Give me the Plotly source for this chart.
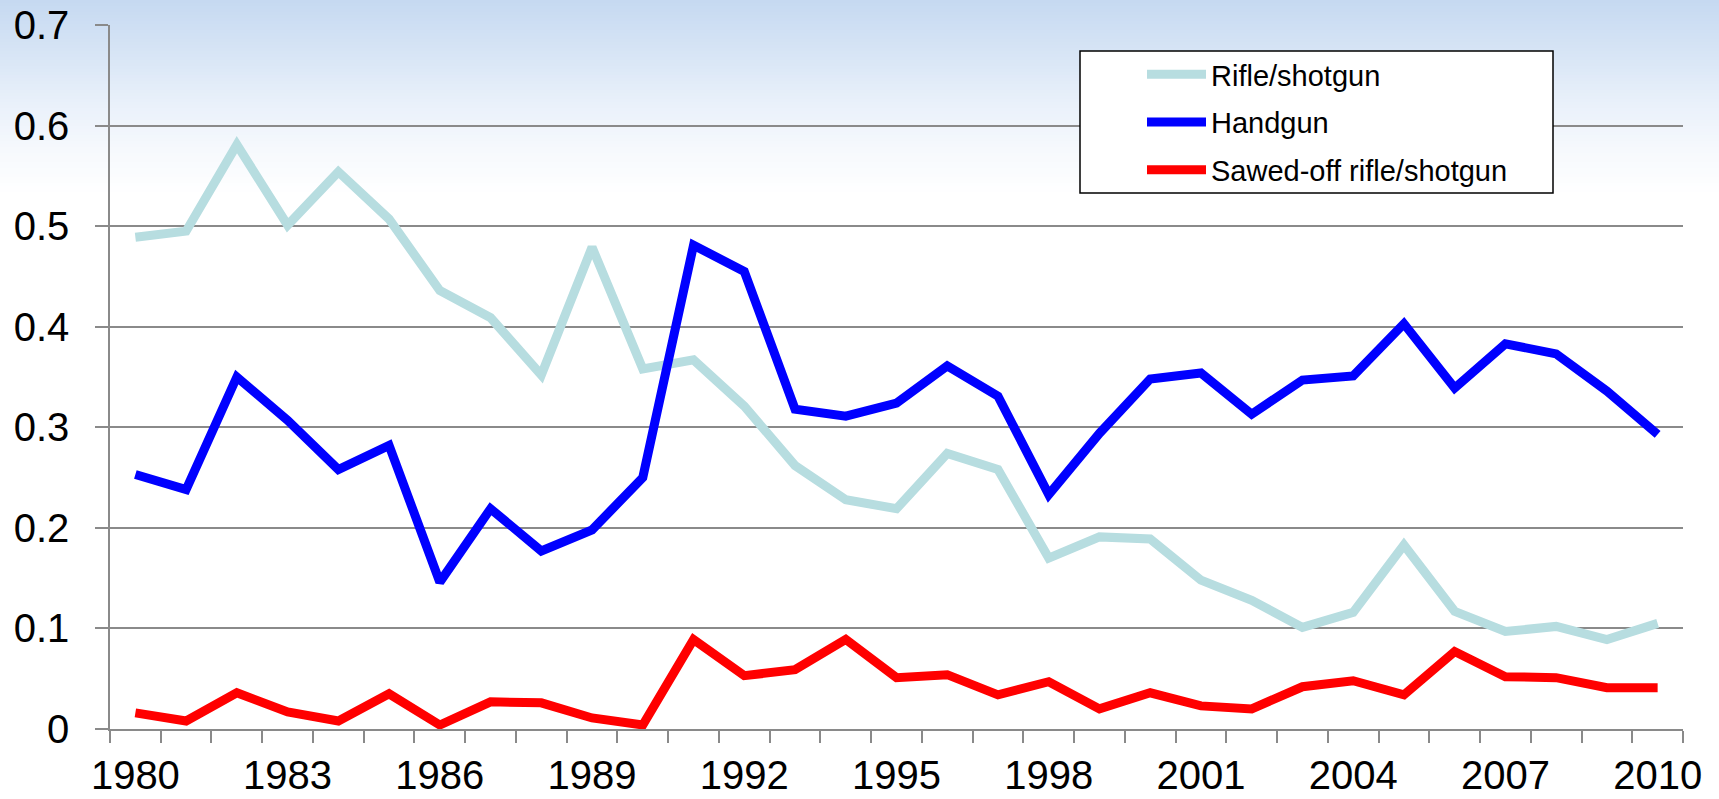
import plotly.graph_objects as go

years = list(range(1980, 2011))
rifle_shotgun = [0.489, 0.495, 0.581, 0.501, 0.554, 0.507, 0.436, 0.409, 0.352, 0.479,
                 0.358, 0.367, 0.321, 0.262, 0.228, 0.219, 0.274, 0.258, 0.170, 0.191,
                 0.189, 0.148, 0.128, 0.101, 0.116, 0.183, 0.117, 0.097, 0.102, 0.089, 0.105]
handgun = [0.253, 0.238, 0.350, 0.307, 0.258, 0.282, 0.146, 0.219, 0.177, 0.198,
           0.250, 0.481, 0.455, 0.318, 0.311, 0.324, 0.361, 0.331, 0.233, 0.294,
           0.348, 0.354, 0.313, 0.347, 0.351, 0.403, 0.339, 0.383, 0.373, 0.336, 0.293]
sawed_off = [0.016, 0.008, 0.036, 0.017, 0.008, 0.035, 0.004, 0.027, 0.026, 0.011,
             0.004, 0.089, 0.053, 0.059, 0.089, 0.051, 0.054, 0.034, 0.047, 0.020,
             0.036, 0.023, 0.020, 0.042, 0.048, 0.034, 0.077, 0.052, 0.051, 0.041, 0.041]
series_names = ["Rifle/shotgun", "Handgun", "Sawed-off rifle/shotgun"]
series_colors = ["#b7dde0", "#0000ff", "#ff0000"]
x_tick_years = list(range(1980, 2011, 3))
y_ticks = [0, 0.1, 0.2, 0.3, 0.4, 0.5, 0.6, 0.7]

W, H = 1719, 799
ML, MR, MT, MB = 110, 36, 25, 70
PW, PH = W - ML - MR, H - MT - MB


def px_to_paper_x(px):
    return (px - ML) / PW


def px_to_paper_y(py):
    return (H - MB - py) / PH


fig = go.Figure()
for name, vals, col in zip(series_names, [rifle_shotgun, handgun, sawed_off], series_colors):
    fig.add_trace(go.Scatter(x=years, y=vals, mode="lines", name=name,
                             legendgroup=name,
                             line=dict(color=col, width=9)))

# background gradient (top bluish fading to white)
stops = [(0, (198, 217, 241)), (50, (214, 228, 245)), (100, (232, 240, 250)),
         (150, (246, 249, 253)), (195, (255, 255, 255))]
shapes = []
step = 3
for y in range(0, 195, step):
    yc = y + step / 2
    for (a, ca), (b, cb) in zip(stops[:-1], stops[1:]):
        if a <= yc <= b:
            t = (yc - a) / (b - a)
            c = tuple(round(ca[i] + (cb[i] - ca[i]) * t) for i in range(3))
            break
    shapes.append(dict(type="rect", xref="paper", yref="paper", layer="below",
                       x0=px_to_paper_x(0), x1=px_to_paper_x(W),
                       y0=px_to_paper_y(y + step + 0.5), y1=px_to_paper_y(y),
                       fillcolor="rgb(%d,%d,%d)" % c, line=dict(width=0)))
# legend box
shapes.append(dict(type="rect", xref="paper", yref="paper", layer="above",
                   x0=px_to_paper_x(1080), x1=px_to_paper_x(1553),
                   y0=px_to_paper_y(193), y1=px_to_paper_y(51),
                   fillcolor="white", line=dict(color="black", width=1.5)))

font_family = "Liberation Sans, Arial, sans-serif"
fig.update_layout(
    width=W, height=H,
    margin=dict(l=ML, r=MR, t=MT, b=MB, pad=0, autoexpand=False),
    paper_bgcolor="white",
    plot_bgcolor="rgba(0,0,0,0)",
    font=dict(family=font_family, color="black"),
    shapes=shapes,
    showlegend=True,
    legend=dict(x=px_to_paper_x(1142), y=px_to_paper_y(49), xanchor="left", yanchor="top",
                bgcolor="rgba(0,0,0,0)", borderwidth=0,
                font=dict(size=29, family=font_family, color="black"),
                tracegroupgap=7, itemwidth=59, traceorder="grouped"),
    xaxis=dict(range=[1979.5, 2010.5], tickmode="array", tickvals=x_tick_years,
               ticktext=[str(v) for v in x_tick_years], ticks="", showgrid=False,
               zeroline=False, showline=True, linecolor="#8a8a8a", linewidth=1.5,
               automargin=False,
               tickfont=dict(size=40, family=font_family, color="black"), ticklabelstandoff=10,
               minor=dict(tickmode="linear", tick0=1979.5, dtick=1, ticks="outside",
                          ticklen=12, tickwidth=1.5, tickcolor="#8a8a8a", showgrid=False)),
    yaxis=dict(range=[0, 0.7], tickmode="array", tickvals=y_ticks,
               ticktext=["0", "0.1", "0.2", "0.3", "0.4", "0.5", "0.6", "0.7"],
               ticks="outside", ticklen=13, tickwidth=1.5, tickcolor="#8a8a8a",
               showgrid=True, gridcolor="#8a8a8a", gridwidth=1.5,
               zeroline=False, showline=True, linecolor="#8a8a8a", linewidth=1.5,
               automargin=False,
               tickfont=dict(size=40, family=font_family, color="black"), ticklabelstandoff=18),
)

fig.write_html("out.html", config={"displayModeBar": False},
               post_script="document.body.style.margin='0';document.body.style.overflow='hidden';")
